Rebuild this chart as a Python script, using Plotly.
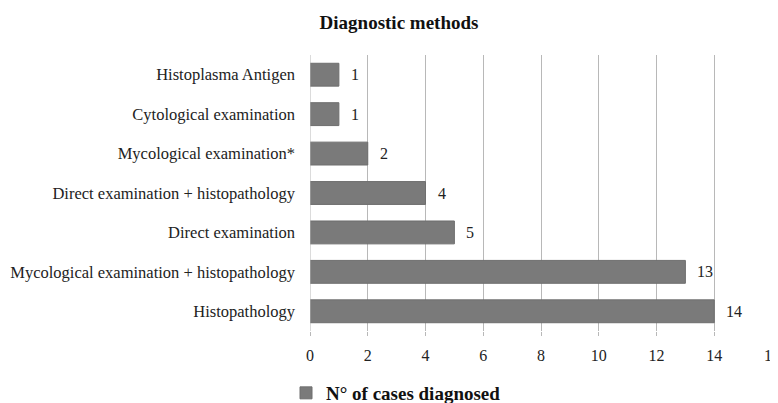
import plotly.graph_objects as go

categories = [
    "Histopathology",
    "Mycological examination + histopathology",
    "Direct examination",
    "Direct examination + histopathology",
    "Mycological examination*",
    "Cytological examination",
    "Histoplasma Antigen",
]
cases = [14, 13, 5, 4, 2, 1, 1]
x_ticks = [0, 2, 4, 6, 8, 10, 12, 14, 16]

# page has an 8px body margin, so the figure is drawn 8px in from the window edges
W, H = 770, 395
L, R, T, B = 302, 6, 47, 72
SERIF = "Liberation Serif, Times New Roman, serif"

fig = go.Figure()
fig.add_trace(go.Bar(
    x=cases, y=categories, orientation="h",
    name="<b>N° of cases diagnosed</b>",
    marker=dict(color="#7a7a7a", line=dict(color="#6e6e6e", width=1)),
    width=0.58,
))

for c, v in zip(categories, cases):
    fig.add_annotation(x=v, y=c, xref="x", yref="y", text=str(v), showarrow=False,
                       xanchor="left", xshift=10,
                       font=dict(family=SERIF, size=16, color="#222"))

fig.update_layout(
    width=W, height=H,
    margin=dict(l=L, r=R, t=T, b=B, autoexpand=False),
    paper_bgcolor="white", plot_bgcolor="white",
    title=dict(text="<b>Diagnostic methods</b>", x=391 / W, xanchor="center",
               y=1 - 14 / H, yanchor="middle",
               font=dict(family=SERIF, size=19, color="#111")),
    xaxis=dict(range=[0, 16], tickvals=x_ticks, ticktext=[str(t) for t in x_ticks],
               showgrid=True, gridcolor="#b8b8b8", gridwidth=1,
               zeroline=False, showline=False,
               ticks="outside", ticklen=4, tickcolor="#b8b8b8",
               ticklabelstandoff=6, ticklabeloverflow="allow",
               tickfont=dict(family=SERIF, size=16, color="#222"),
               automargin=False, fixedrange=True),
    yaxis=dict(showgrid=False, zeroline=False, showline=False,
               ticks="", ticklabelstandoff=14, automargin=False,
               tickfont=dict(family=SERIF, size=16.5, color="#222"),
               categoryorder="array", categoryarray=categories),
    showlegend=True,
    legend=dict(orientation="h", xref="container", yref="container",
                x=278 / W, xanchor="left", y=1 - 385 / H, yanchor="middle",
                font=dict(family=SERIF, size=19, color="#111"),
                itemwidth=30, bgcolor="rgba(0,0,0,0)"),
)
fig.add_shape(type="line", xref="x", yref="paper", x0=0, x1=0, y0=0, y1=1,
              line=dict(color="#b8b8b8", width=1))

fig.write_html("out.html")
